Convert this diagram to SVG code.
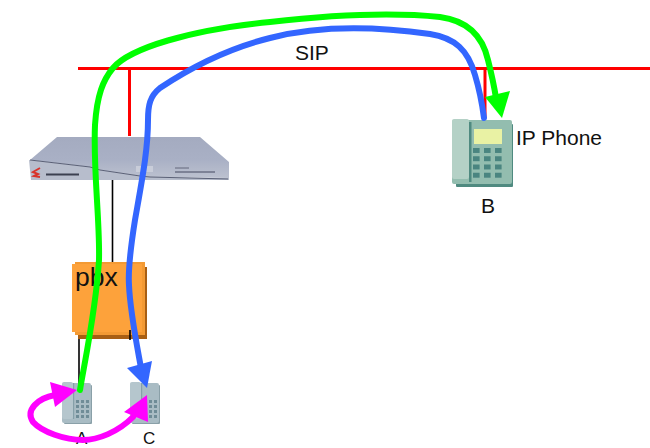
<svg xmlns="http://www.w3.org/2000/svg" width="650" height="448" viewBox="0 0 650 448">
<style>
text{font-family:"Liberation Sans",Arial,sans-serif;fill:#111}
.lbl{font-size:21px}
.small{font-size:17px}
.bus{stroke:#f00;stroke-width:3;fill:none}
.wire{stroke:#000;stroke-width:1.6;fill:none}
.flow{fill:none;stroke-width:6;stroke-linecap:round}
</style>
<defs>
<linearGradient id="rt" x1="0" y1="0" x2="0" y2="1"><stop offset="0" stop-color="#a4abc0"/><stop offset=".55" stop-color="#a9b0c5"/><stop offset="1" stop-color="#bcc1cf"/></linearGradient>
<g id="keys">
<rect x="0" y="0" width="3" height="3"/><rect x="5" y="0" width="3" height="3"/><rect x="10" y="0" width="3" height="3"/>
<rect x="0" y="5" width="3" height="3"/><rect x="5" y="5" width="3" height="3"/><rect x="10" y="5" width="3" height="3"/>
<rect x="0" y="10" width="3" height="3"/><rect x="5" y="10" width="3" height="3"/><rect x="10" y="10" width="3" height="3"/>
<rect x="0" y="15" width="3" height="3"/><rect x="5" y="15" width="3" height="3"/><rect x="10" y="15" width="3" height="3"/>
</g>
<g id="smallphone">
<rect x="2" y="3" width="28" height="39" rx="1" fill="#8aa0a8"/>
<rect x="0" y="1" width="29" height="40" rx="2" fill="#a9bcc4"/>
<rect x="0" y="0" width="11" height="37" rx="2" fill="#b5c6cd"/>
<rect x="11" y="1" width="1.200" height="36" fill="#86a0a9"/>
<use href="#keys" x="14" y="18" fill="#6f8c97"/>
</g>
</defs>
<g id="connectors-wires">
<path class="bus" d="M78 68.500H650"/>
<path class="bus" d="M129.500 68V136"/>
<path class="bus" d="M485 68V118"/>
<path class="wire" d="M112.500 178V263"/>
<path class="wire" d="M79 335V385"/>
</g>
<g id="router">
<path d="M57 137H200L229 162V178L150 177L140 176L100 170L90 167L30 160Z" fill="url(#rt)"/>
<path d="M29 160L90 167L100 170L140 176L150 177L229 178V180H31Z" fill="#b7bdcc"/>
<path d="M30 160L90 167L100 170L140 176L150 177L228 179" fill="none" stroke="#5a6076" stroke-width="1"/>
<path d="M40 168L33 172L38 174L34 176L40 177" fill="none" stroke="#d8342c" stroke-width="2"/>
<rect x="46" y="173.500" width="33" height="2" fill="#3c4050"/>
<rect x="175" y="171" width="40" height="2" fill="#7d8296"/>
<rect x="175" y="167" width="14" height="2" fill="#8a8fa2"/>
<rect x="136" y="166" width="17" height="6" fill="#c9cdd9"/>
</g>
<g id="pbx">
<rect x="78" y="267" width="69" height="72" fill="#a85f14"/>
<rect x="75" y="262" width="70" height="73" fill="#f39a34"/>
<rect x="72" y="264" width="70" height="68" fill="#fda23b"/>
<text x="75" y="286" font-size="26.500px">pbx</text>
<path class="wire" d="M130 330V340"/>
</g>
<g id="phone-a">
<use href="#smallphone" x="62" y="382"/>
<text class="small" x="76" y="444">A</text>
</g>
<g id="phone-c">
<use href="#smallphone" x="130" y="382"/>
<text class="small" x="143" y="444">C</text>
</g>
<g id="phone-b">
<rect x="456" y="124" width="57" height="63" rx="1" fill="#4f8a80"/>
<rect x="452" y="120" width="60" height="64" rx="2" fill="#93bdaf"/>
<rect x="452" y="119" width="17" height="60" rx="2" fill="#b4d1c6"/>
<rect x="469" y="122" width="2.500" height="60" fill="#4f8a80"/>
<rect x="474" y="129" width="28" height="15" fill="#e9f2a4"/>
<use href="#keys" transform="translate(473 148) scale(2.200 1.650)" fill="#4a8580"/>
<text class="lbl" x="516" y="145">IP Phone</text>
<text class="lbl" x="481" y="213">B</text>
</g>
<text id="sip" class="lbl" x="295" y="60">SIP</text>
<g id="connectors">
<path class="flow" stroke="#00ff00" d="M80 390C84 365 96 310 99 260C100 220 93 170 95 125C97 95 103 80 113 68C130 48 190 30 270 22C340 14 400 13 440 17C470 21 483 38 488 60C491 72 494 85 496 98"/>
<path d="M485 97L510 91L502 118Z" fill="#00ff00"/>
<path class="flow" stroke="#3366ff" d="M484 118C481 95 478 85 475 75C468 50 455 38 430 34C380 27 320 25 270 38C230 48 190 68 160 88C150 96 148 105 148 120C148 150 142 180 135 220C131 245 128 270 129 285C130 310 135 335 141 368"/>
<path d="M127 368L152 361L147 388Z" fill="#3366ff"/>
<path class="flow" stroke="#ff00ff" d="M133 417C118 432 98 440 83 440C65 440 42 432 33 422C25 410 38 398 55 395"/>
<path d="M147 395L124 412L148 422Z" fill="#ff00ff"/>
<path d="M77 390L50 382L55 407Z" fill="#ff00ff"/>
</g>
</svg>
